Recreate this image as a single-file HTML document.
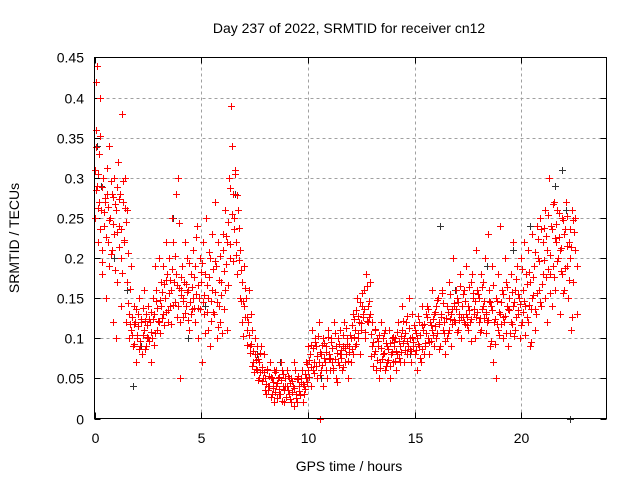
<!DOCTYPE html>
<html><head><meta charset="utf-8"><style>
html,body{margin:0;padding:0;background:#fff;}
svg{display:block;font-family:"Liberation Sans",sans-serif;}
</style></head><body>
<svg id="chart" width="640" height="480" viewBox="0 0 640 480">
<text x="349" y="33" font-size="14" text-anchor="middle">Day 237 of 2022, SRMTID for receiver cn12</text>
<text x="349" y="471" font-size="14" text-anchor="middle">GPS time / hours</text>
<text transform="translate(19,238) rotate(-90)" font-size="14" text-anchor="middle">SRMTID / TECUs</text>
<g id="grid"></g>
<g id="ticks"></g>
<g id="black"></g>
<g id="red"></g>
<rect x="94.5" y="57.5" width="512" height="361" fill="none" stroke="#000" stroke-width="1"/>
</svg>
<script>
const xTicks=[0,5,10,15,20];
const yTicks=[0,0.05,0.1,0.15,0.2,0.25,0.3,0.35,0.4,0.45];
const yTickLabels=["0","0.05","0.1","0.15","0.2","0.25","0.3","0.35","0.4","0.45"];
const redTimes=[0,0.1,0.2,0.3,0.4,0.5,0.6,0.7,0.8,0.9,1.0,1.1,1.2,1.3,1.4,1.5,1.6,1.7,1.8,1.9,2.0,2.1,2.2,2.3,2.4,2.5,2.6,2.7,2.8,2.9,3.0,3.1,3.2,3.3,3.4,3.5,3.6,3.7,3.8,3.9,4.0,4.1,4.2,4.3,4.4,4.5,4.6,4.7,4.8,4.9,5.0,5.1,5.2,5.3,5.4,5.5,5.6,5.7,5.8,5.9,6.0,6.1,6.2,6.3,6.4,6.5,6.6,6.7,6.8,6.9,7.0,7.1,7.2,7.3,7.4,7.5,7.6,7.7,7.8,7.9,8.0,8.1,8.2,8.3,8.4,8.5,8.6,8.7,8.8,8.9,9.0,9.1,9.2,9.3,9.4,9.5,9.6,9.7,9.8,9.9,10.0,10.1,10.2,10.3,10.4,10.5,10.6,10.7,10.8,10.9,11.0,11.1,11.2,11.3,11.4,11.5,11.6,11.7,11.8,11.9,12.0,12.1,12.2,12.3,12.4,12.5,12.6,12.7,12.8,12.9,13.0,13.1,13.2,13.3,13.4,13.5,13.6,13.7,13.8,13.9,14.0,14.1,14.2,14.3,14.4,14.5,14.6,14.7,14.8,14.9,15.0,15.1,15.2,15.3,15.4,15.5,15.6,15.7,15.8,15.9,16.0,16.1,16.2,16.3,16.4,16.5,16.6,16.7,16.8,16.9,17.0,17.1,17.2,17.3,17.4,17.5,17.6,17.7,17.8,17.9,18.0,18.1,18.2,18.3,18.4,18.5,18.6,18.7,18.8,18.9,19.0,19.1,19.2,19.3,19.4,19.5,19.6,19.7,19.8,19.9,20.0,20.1,20.2,20.3,20.4,20.5,20.6,20.7,20.8,20.9,21.0,21.1,21.2,21.3,21.4,21.5,21.6,21.7,21.8,21.9,22.0,22.1,22.2,22.3,22.4,22.5,22.6];
const redVals=[[.31,.25,.42,.36],[.44,.29,.22],[.33,.27,.40],[.26,.18,.21],[.30,.24],[.27,.15],[.28,.22,.19],[.34,.25],[.21,.28,.12],[.30,.23],[.26,.10,.17],[.32,.24],[.28,.20,.14],[.38,.27],[.22,.30,.12],[.26,.17],[.13,.10],[.11,.19],[.09,.14],[.12,.07],[.10,.13],[.15,.09],[.12,.08],[.11,.16],[.09,.13],[.14,.10],[.12,.07],[.10,.15],[.13,.19],[.16,.11],[.12,.20],[.17,.14],[.19,.13],[.15,.22],[.18,.12],[.20,.14],[.16,.25],[.22,.17],[.18,.28],[.14,.30],[.12,.05,.16],[.19,.15],[.17,.22],[.14,.20],[.16,.11],[.18,.13],[.21,.15],[.12,.19],[.24,.10],[.15,.20],[.17,.07],[.22,.13],[.18,.25],[.15,.11],[.20,.09],[.23,.16],[.13,.27],[.19,.10],[.22,.14],[.12,.17],[.21,.23],[.16,.26],[.22,.11],[.30,.20],[.39,.34],[.28,.25],[.31,.22],[.18,.26],[.21,.15],[.17,.12],[.19,.14],[.15,.11],[.12,.16],[.09,.13],[.11,.07],[.08,.10],[.06,.09],[.07,.05],[.09,.06],[.05,.08],[.05,.03],[.06,.04],[.04,.07],[.03,.05],[.06,.02],[.04,.06],[.05,.03],[.03,.07],[.06,.04],[.02,.05],[.04,.06],[.03,.05],[.05,.02],[.04,.07],[.06,.03],[.02,.05],[.04,.03],[.05,.06],[.03,.04],[.07,.05],[.06,.09],[.08,.04],[.11,.06],[.07,.10],[.09,.05],[.12,.07,0],[.06,.08],[.10,.04],[.07,.09],[.05,.11],[.08,.06],[.10,.07],[.06,.12],[.09,.05],[.07,.10],[.11,.08],[.06,.09],[.12,.07],[.08,.10],[.05,.09],[.10,.07],[.13,.08],[.09,.11],[.15,.10],[.12,.08],[.11,.14],[.13,.16],[.10,.18],[.14,.12],[.17,.13],[.12,.09],[.08,.11],[.06,.10],[.09,.05],[.07,.12],[.10,.08],[.06,.11],[.09,.07],[.11,.05],[.08,.10],[.07,.09],[.10,.06],[.08,.12],[.09,.07],[.11,.14],[.07,.10],[.12,.08],[.09,.15],[.10,.07],[.13,.09],[.08,.11],[.10,.06],[.12,.09],[.07,.14],[.11,.08],[.09,.13],[.14,.10],[.08,.12],[.11,.16],[.13,.09],[.10,.14],[.15,.12],[.09,.13],[.16,.11],[.12,.08],[.14,.10],[.11,.17],[.13,.09],[.20,.14],[.12,.16],[.15,.11],[.13,.18],[.10,.14],[.16,.12],[.19,.13],[.14,.11],[.12,.17],[.18,.15],[.13,.10],[.21,.16],[.15,.12],[.11,.18],[.17,.14],[.20,.13],[.12,.23],[.16,.09],[.14,.19],[.07,.12],[.05,.15],[.18,.11],[.13,.24],[.16,.10],[.12,.20],[.17,.14],[.09,.15],[.18,.12],[.14,.22],[.11,.16],[.19,.13],[.15,.10],[.20,.12],[.16,.22],[.14,.18],[.21,.12],[.17,.09],[.23,.15],[.19,.11],[.13,.24],[.20,.16],[.25,.14],[.18,.22],[.15,.26],[.21,.12],[.30,.18],[.24,.14],[.19,.27],[.16,.22],[.26,.20],[.21,.13],[.18,.25],[.23,.16],[.27,.19],[.15,.22],[.20,.11],[.26,.17],[.21,.25],[.19,.13]];
const redVals2=[[.285,.338],[.262,.305],[.236,.352],[.288,.195],[.258,.275],[.226,.312],[.264,.248],[.296,.205],[.243,.276],[.185,.267],[.232,.288],[.214,.273],[.236,.181],[.296,.223],[.263,.245],[.144,.206],[.118,.162],[.104,.127],[.093,.118],[.136,.104],[.115,.087],[.096,.124],[.104,.138],[.087,.122],[.117,.101],[.096,.124],[.108,.133],[.124,.092],[.107,.146],[.138,.121],[.148,.106],[.125,.158],[.168,.116],[.173,.133],[.135,.156],[.173,.118],[.186,.142],[.145,.203],[.166,.126],[.244,.163],[.154,.177],[.147,.126],[.132,.168],[.158,.123],[.194,.145],[.136,.164],[.177,.138],[.155,.226],[.167,.138],[.136,.183],[.194,.145],[.154,.107],[.166,.133],[.207,.176],[.147,.121],[.186,.133],[.196,.158],[.145,.114],[.173,.203],[.154,.107],[.137,.184],[.193,.227],[.245,.166],[.218,.287],[.255,.196],[.236,.305],[.204,.278],[.197,.238],[.185,.147],[.146,.103],[.163,.126],[.127,.091],[.104,.082],[.093,.065],[.084,.058],[.073,.062],[.074,.048],[.058,.082],[.047,.064],[.058,.036],[.043,.062],[.035,.053],[.052,.027],[.046,.038],[.033,.058],[.044,.026],[.037,.052],[.048,.022],[.055,.036],[.041,.027],[.036,.053],[.024,.044],[.047,.033],[.038,.015],[.026,.049],[.053,.034],[.029,.046],[.043,.021],[.056,.037],[.045,.068],[.073,.052],[.064,.092],[.088,.057],[.095,.066],[.078,.103],[.083,.054],[.067,.092],[.094,.076],[.083,.061],[.101,.074],[.076,.095],[.088,.063],[.106,.074],[.082,.045],[.093,.067],[.075,.086],[.104,.064],[.088,.113],[.093,.072],[.083,.104],[.116,.087],[.102,.124],[.135,.093],[.128,.106],[.145,.119],[.157,.126],[.136,.108],[.165,.122],[.127,.147],[.105,.078],[.095,.066],[.084,.112],[.073,.096],[.104,.063],[.088,.074],[.082,.106],[.066,.094],[.087,.073],[.094,.065],[.083,.102],[.095,.072],[.084,.108],[.096,.075],[.103,.083],[.122,.094],[.085,.106],[.097,.128],[.113,.087],[.084,.102],[.095,.117],[.106,.085],[.093,.128],[.104,.075],[.087,.117],[.118,.094],[.106,.127],[.137,.095],[.096,.117],[.124,.104],[.133,.115],[.106,.148],[.118,.087],[.126,.156],[.144,.107],[.097,.125],[.133,.106],[.155,.124],[.118,.137],[.123,.144],[.137,.108],[.145,.123],[.165,.126],[.127,.155],[.146,.118],[.117,.126],[.135,.164],[.124,.097],[.157,.136],[.147,.126],[.133,.155],[.125,.108],[.164,.137],[.146,.125],[.106,.133],[.123,.147],[.145,.096],[.135,.166],[.124,.093],[.146,.118],[.133,.104],[.118,.145],[.155,.126],[.128,.106],[.164,.137],[.135,.106],[.118,.158],[.145,.103],[.126,.174],[.155,.135],[.143,.116],[.186,.133],[.147,.104],[.168,.126],[.183,.142],[.137,.095],[.176,.154],[.208,.137],[.157,.224],[.196,.145],[.236,.168],[.197,.238],[.227,.176],[.254,.186],[.204,.157],[.236,.268],[.176,.225],[.243,.196],[.226,.256],[.184,.213],[.247,.157],[.236,.188],[.252,.215],[.173,.236],[.214,.126],[.247,.232]];
const blackTimes=[0.1,0.3,0.9,1.5,1.8,2.2,3.7,4.4,5.2,6.6,7.6,8.7,9.3,10.6,12.4,14.8,16.2,16.9,18.4,19.6,20.4,21.6,21.9,22.1,22.3];
const blackVals=[.34,.29,.20,.16,.04,.09,.25,.10,.14,.28,.08,.07,.04,.05,.12,.08,.24,.16,.19,.21,.24,.29,.31,.26,0];
const X0=94.5,X1=606.5,Y0=418.5,Y1=57.5,XMAX=24,YMAX=0.45;
function xs(t){return X0+(X1-X0)*t/XMAX;}
function ys(v){return Y0-(Y0-Y1)*v/YMAX;}
const NS="http://www.w3.org/2000/svg";
const grid=document.getElementById('grid'),ticks=document.getElementById('ticks');
function line(g,x1,y1,x2,y2,st,dash){const l=document.createElementNS(NS,'line');l.setAttribute('x1',x1);l.setAttribute('y1',y1);l.setAttribute('x2',x2);l.setAttribute('y2',y2);l.setAttribute('stroke',st);if(dash)l.setAttribute('stroke-dasharray',dash);g.appendChild(l);return l;}
yTicks.forEach((v,i)=>{const y=Math.round(ys(v))+0.5;
 if(i>0&&i<yTicks.length-1){const gl=line(grid,X0,y,X1,y,'#a0a0a0','3,3');
 
 }
 line(ticks,X0,y,X0+6,y,'#000');line(ticks,X1-6,y,X1,y,'#000');
 const t=document.createElementNS(NS,'text');t.setAttribute('x',84);t.setAttribute('y',y+5);t.setAttribute('text-anchor','end');t.setAttribute('font-size','14');t.textContent=yTickLabels[i];
 
 
 ticks.appendChild(t);});
xTicks.forEach((v,i)=>{const x=Math.round(xs(v))+0.5;
 if(i>0){const gl=line(grid,x,Y0,x,Y1,'#a0a0a0','3,3');
 
 }
 line(ticks,x,Y0,x,Y0-6,'#000');line(ticks,x,Y1,x,Y1+6,'#000');
 const t=document.createElementNS(NS,'text');t.setAttribute('x',x);t.setAttribute('y',443);t.setAttribute('text-anchor','middle');t.setAttribute('font-size','14');t.textContent=String(v);
 
 
 ticks.appendChild(t);});
function plus(g,t,v,col){const x=Math.round(xs(t))+0.5,y=Math.round(ys(v))+0.5;const p=document.createElementNS(NS,'path');
 p.setAttribute('d',`M${x-3.5},${y}H${x+3.5}M${x},${y-3.5}V${y+3.5}`);p.setAttribute('stroke',col);p.setAttribute('stroke-width','1');p.setAttribute('fill','none');
 
 
 g.appendChild(p);}
const bg=document.getElementById('black'),rg=document.getElementById('red');
blackTimes.forEach((t,i)=>plus(bg,t,blackVals[i],'#333'));
redTimes.forEach((t,i)=>redVals[i].forEach((v,j)=>plus(rg,t+j*0.03,v,'#ff0000')));
redTimes.forEach((t,i)=>{if(redVals2[i])redVals2[i].forEach((v,j)=>plus(rg,t+0.05+j*0.02,v,'#ff0000'));});
</script>
</body></html>
